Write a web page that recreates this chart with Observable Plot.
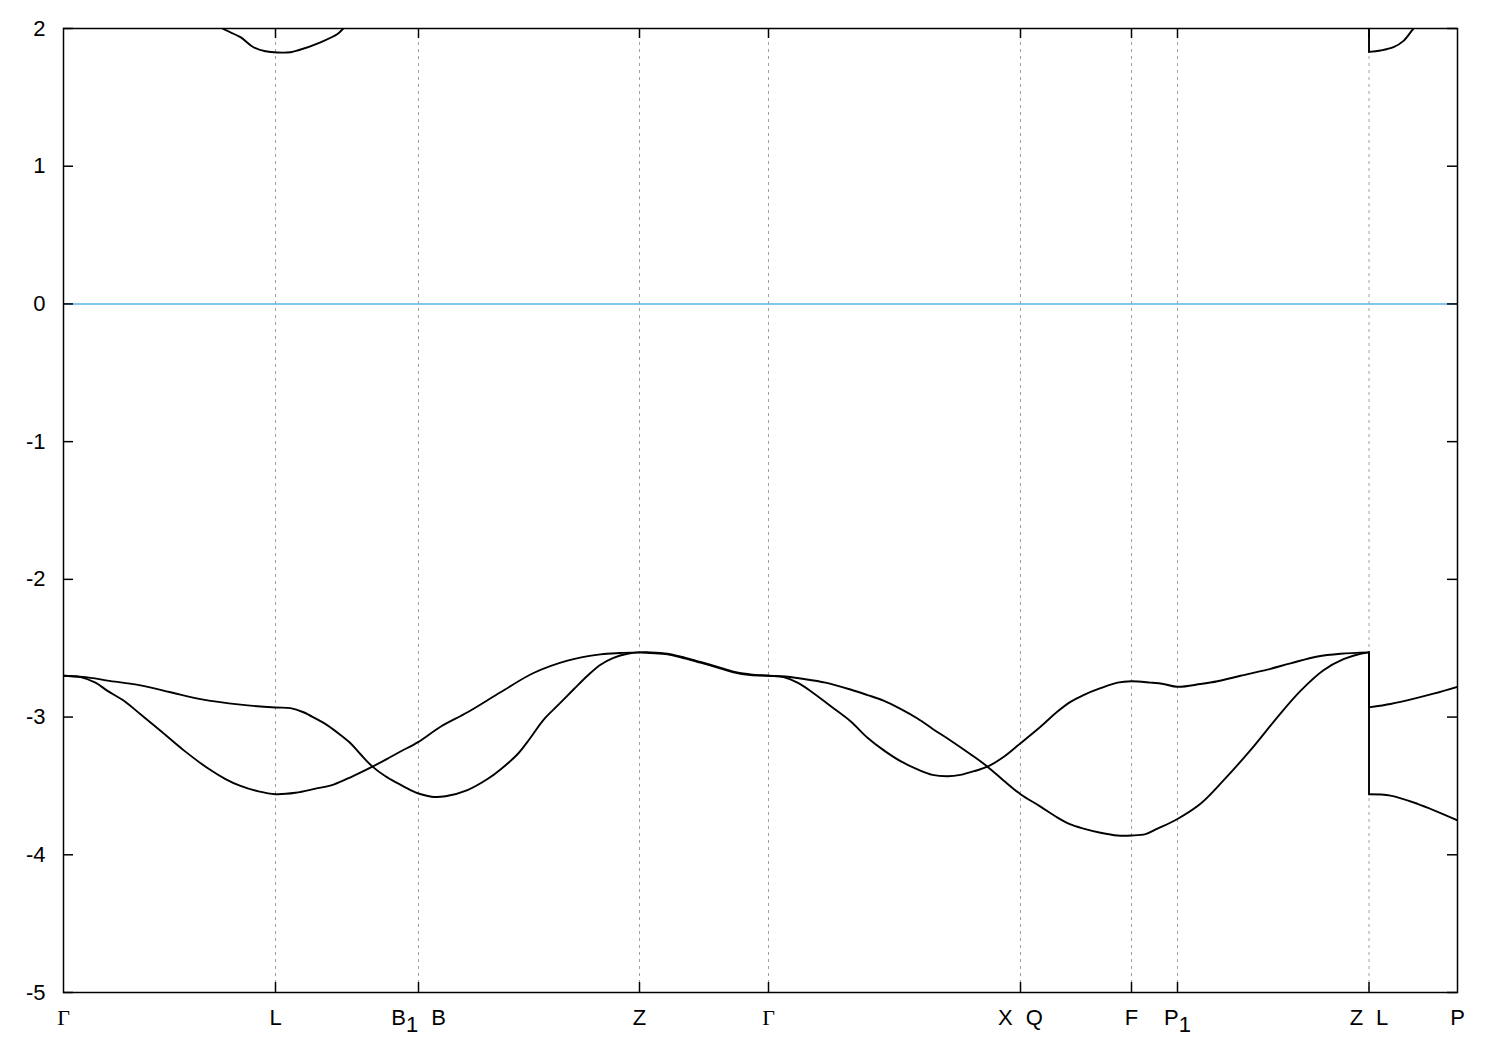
<!DOCTYPE html>
<html>
<head>
<meta charset="utf-8">
<script src="https://cdn.jsdelivr.net/npm/d3@7"></script>
<script src="https://cdn.jsdelivr.net/npm/@observablehq/plot@0.6"></script>
<style>
  html, body { margin: 0; padding: 0; background: #fff; }
  #chart { width: 1500px; height: 1050px; }
</style>
</head>
<body>
<div id="chart"></div>
<script>
// High-symmetry points along the k-path (path coordinate) and their labels
const kLabels = ["Γ", "L", "B_1 B", "Z", "Γ", "X Q", "F", "P_1", "Z L", "P"];
const kPos = [0, 2.12, 3.55, 5.76, 7.05, 9.57, 10.68, 11.14, 13.055, 13.94];
const yTicks = [-5, -4, -3, -2, -1, 0, 1, 2];
const fermiLevel = [0];

// Valence band A: [k, E (eV)]
const bandA = [
  [0, -2.70], [0.27, -2.715], [0.44, -2.735], [0.77, -2.77], [1.07, -2.82], [1.37, -2.87],
  [1.77, -2.91], [2.12, -2.93], [2.27, -2.935], [2.40, -2.965], [2.52, -3.01], [2.64, -3.06],
  [2.77, -3.13], [2.87, -3.19], [2.97, -3.27], [3.09, -3.36], [3.22, -3.43], [3.34, -3.48],
  [3.47, -3.53], [3.55, -3.555], [3.70, -3.58], [3.82, -3.575], [4.04, -3.53], [4.24, -3.45],
  [4.37, -3.38], [4.54, -3.27], [4.67, -3.15], [4.80, -3.02], [4.95, -2.91], [5.10, -2.80],
  [5.24, -2.70], [5.37, -2.62], [5.50, -2.57], [5.64, -2.54], [5.76, -2.53],
  [5.87, -2.53], [6.04, -2.54], [6.22, -2.57], [6.37, -2.60], [6.54, -2.635], [6.70, -2.67],
  [6.87, -2.69], [7.05, -2.70],
  [7.20, -2.71], [7.34, -2.75], [7.47, -2.81], [7.67, -2.92], [7.87, -3.03], [8.04, -3.15],
  [8.20, -3.24], [8.37, -3.32], [8.54, -3.38], [8.69, -3.42], [8.84, -3.43], [8.97, -3.42],
  [9.12, -3.39], [9.24, -3.36], [9.40, -3.29], [9.57, -3.19], [9.77, -3.07], [9.94, -2.96],
  [10.07, -2.89], [10.20, -2.84], [10.37, -2.79], [10.54, -2.75], [10.68, -2.74],
  [10.87, -2.75], [11.00, -2.76], [11.14, -2.78], [11.37, -2.76], [11.54, -2.74],
  [11.77, -2.70], [12.04, -2.655], [12.27, -2.61], [12.54, -2.56], [12.77, -2.54], [13.055, -2.53],
  [13.055, -2.93], [13.27, -2.905], [13.37, -2.89], [13.70, -2.83], [13.94, -2.78]
];

// Valence band B: [k, E (eV)]
const bandB = [
  [0, -2.70], [0.17, -2.71], [0.32, -2.75], [0.44, -2.81], [0.62, -2.89], [0.77, -2.98],
  [0.97, -3.10], [1.20, -3.24], [1.44, -3.37], [1.62, -3.45], [1.77, -3.50], [1.95, -3.54],
  [2.12, -3.56], [2.32, -3.55], [2.52, -3.52], [2.70, -3.49], [2.89, -3.43], [3.09, -3.36],
  [3.27, -3.29], [3.37, -3.25], [3.55, -3.18], [3.77, -3.07], [4.04, -2.965], [4.37, -2.82],
  [4.70, -2.68], [5.04, -2.59], [5.37, -2.545], [5.57, -2.535], [5.76, -2.53],
  [5.87, -2.535], [6.04, -2.545], [6.22, -2.575], [6.37, -2.605], [6.54, -2.64], [6.70, -2.675],
  [6.87, -2.695], [7.05, -2.70],
  [7.22, -2.705], [7.37, -2.72], [7.62, -2.75], [7.87, -2.80], [8.04, -2.84], [8.20, -2.88],
  [8.37, -2.94], [8.54, -3.01], [8.70, -3.09], [8.87, -3.17], [9.07, -3.27], [9.24, -3.36],
  [9.40, -3.46], [9.57, -3.56], [9.77, -3.65], [9.94, -3.73], [10.07, -3.78], [10.20, -3.81],
  [10.37, -3.84], [10.54, -3.86], [10.68, -3.86], [10.82, -3.85], [10.94, -3.81],
  [11.14, -3.74], [11.37, -3.63], [11.60, -3.46], [11.87, -3.24], [12.14, -3.00],
  [12.37, -2.81], [12.60, -2.66], [12.80, -2.58], [12.97, -2.54], [13.055, -2.53],
  [13.055, -3.56], [13.27, -3.57], [13.54, -3.63], [13.94, -3.75]
];

// Conduction band pieces (clipped at 2 eV)
const condC1 = [
  [1.47, 2.06], [1.59, 2.0], [1.77, 1.937], [1.90, 1.864], [2.02, 1.835], [2.14, 1.826],
  [2.27, 1.828], [2.34, 1.84], [2.57, 1.90], [2.74, 1.96], [2.80, 2.0], [2.92, 2.06]
];
const condC2 = [
  [13.055, 2.3], [13.055, 1.83], [13.17, 1.84], [13.30, 1.864], [13.40, 1.91], [13.50, 2.0], [13.57, 2.05]
];

// Split each band into smooth segments and vertical jumps (where k repeats)
const smoothRows = [];
const jumpRows = [];
[["A", bandA], ["B", bandB], ["C1", condC1], ["C2", condC2]].forEach(([id, arr]) => {
  let seg = 0;
  arr.forEach(([k, e], i) => {
    if (i > 0 && arr[i - 1][0] === k) {
      jumpRows.push({series: `${id}-j${seg}`, k: arr[i - 1][0], e: arr[i - 1][1]});
      jumpRows.push({series: `${id}-j${seg}`, k, e});
      seg++;
    }
    smoothRows.push({series: `${id}-${seg}`, k, e});
  });
});
const kPoints = kPos.map((p, i) => ({pos: p, label: kLabels[i]}));
const inner = kPos.slice(1, -1);

const W = 1500, H = 1050;
const mL = 63, mR = 43, mT = 28, mB = 58;
const pw = W - mL - mR, ph = H - mT - mB;

const chart = Plot.plot({
  width: W, height: H,
  marginLeft: mL, marginRight: mR, marginTop: mT, marginBottom: mB,
  style: {fontFamily: "'Liberation Sans', Arial, sans-serif", fontSize: "22px", background: "#fff", color: "#000"},
  x: {domain: [0, 13.94], axis: null},
  y: {domain: [-5, 2], axis: null},
  marks: [
    Plot.ruleX(inner, {x: d => d, stroke: "#a0a0a0", strokeWidth: 1, strokeDasharray: "3,4"}),
    Plot.ruleY(fermiLevel, {y: d => d, stroke: "#56b4e9", strokeWidth: 1.6}),
    Plot.line(smoothRows, {x: "k", y: "e", z: "series", stroke: "#000", strokeWidth: 1.9, clip: true, curve: "catmull-rom"}),
    Plot.line(jumpRows, {x: "k", y: "e", z: "series", stroke: "#000", strokeWidth: 1.9, clip: true, curve: "linear"}),
    // inward ticks
    Plot.tickY(yTicks, {y: d => d, insetRight: pw - 10, stroke: "#000", strokeWidth: 1.5}),
    Plot.tickY(yTicks, {y: d => d, insetLeft: pw - 10, stroke: "#000", strokeWidth: 1.5}),
    Plot.tickX(inner, {x: d => d, insetTop: ph - 10, stroke: "#000", strokeWidth: 1.5}),
    Plot.tickX(inner, {x: d => d, insetBottom: ph - 10, stroke: "#000", strokeWidth: 1.5}),
    Plot.frame({stroke: "#000", strokeWidth: 1.5}),
    // tick labels
    Plot.text(yTicks, {y: d => d, frameAnchor: "left", dx: -18, textAnchor: "end", text: d => String(d), fill: "#000", fontSize: 22}),
    Plot.text(kPoints, {x: "pos", frameAnchor: "bottom", dy: 32, text: "label", fill: "#000", fontSize: 22, className: "klabel"})
  ]
});

document.getElementById("chart").appendChild(chart);

// Rich text for labels: subscripts, word gaps and serif Gamma
d3.select(chart).selectAll(".klabel text").each(function() {
  const el = d3.select(this);
  const s = this.textContent;
  el.text(null);
  const parts = s.split(/(_1|Γ| )/).filter(p => p !== "");
  let pendingUp = false;
  let pendingGap = false;
  parts.forEach(p => {
    if (p === "_1") {
      el.append("tspan").attr("dy", 7).text("1");
      pendingUp = true;
      return;
    }
    if (p === " ") { pendingGap = true; return; }
    const t = el.append("tspan").text(p);
    if (pendingUp) { t.attr("dy", -7); pendingUp = false; }
    if (pendingGap) { t.attr("dx", 13); pendingGap = false; }
    if (p === "Γ") t.attr("font-family", "'Liberation Serif', 'Times New Roman', serif");
  });
});
</script>
</body>
</html>
